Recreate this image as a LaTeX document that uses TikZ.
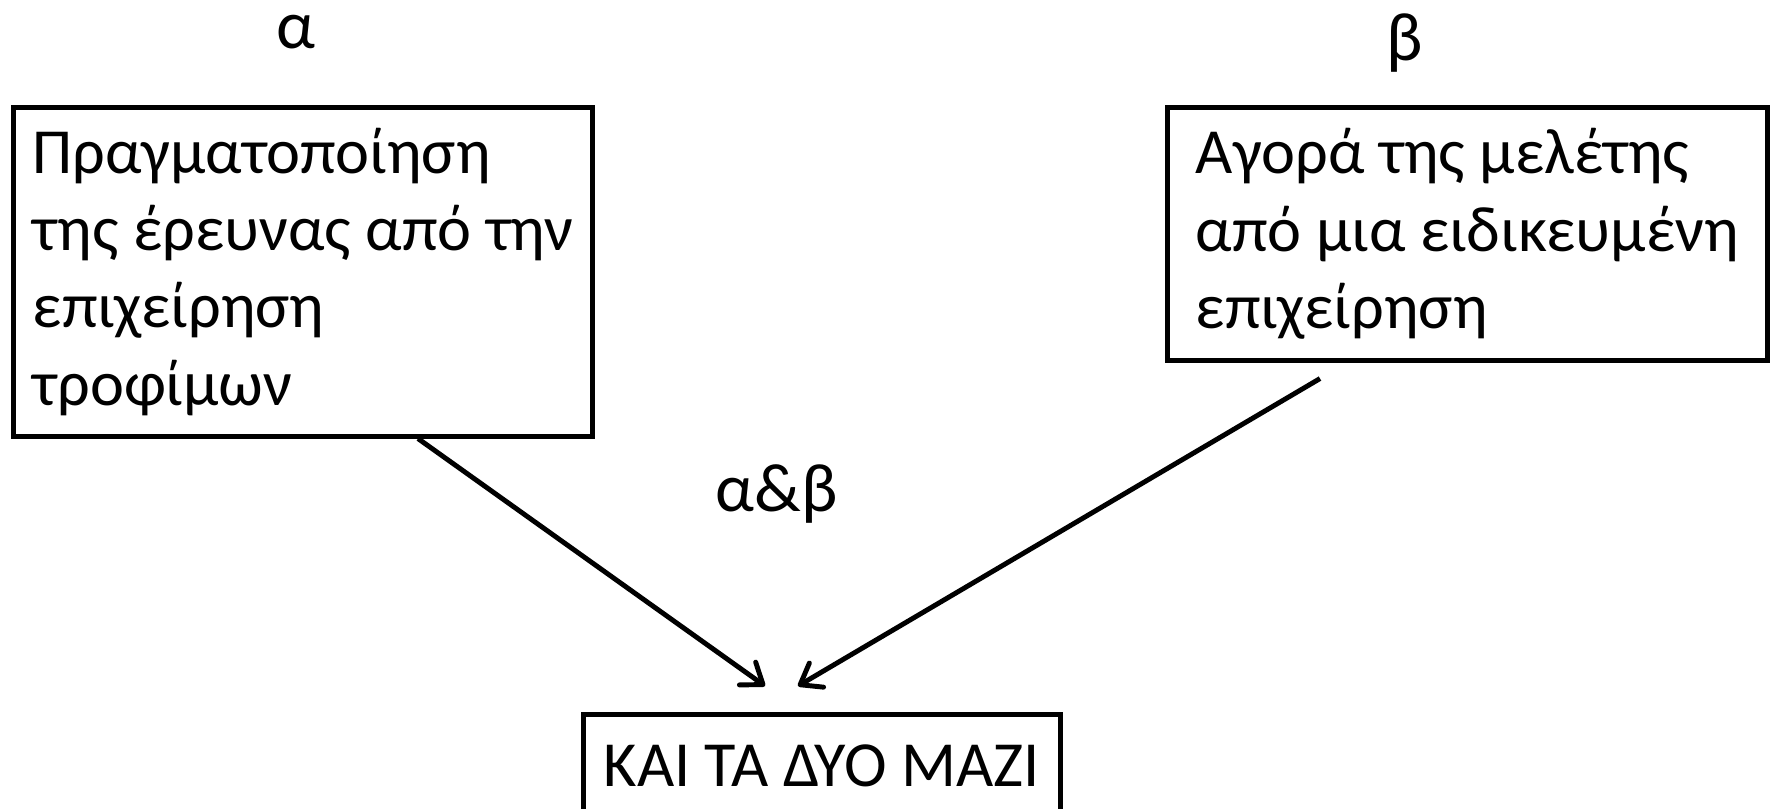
\documentclass[tikz,border=0pt]{standalone}
\usepackage{fontspec}
\setmainfont{Carlito}
\usetikzlibrary{positioning}
\usetikzlibrary{arrows.meta}
\begin{document}
\begin{tikzpicture}[box/.style={draw, line width=1.3pt, rectangle, align=left, font=\fontsize{18.3}{22}\selectfont},
	lbl/.style={font=\fontsize{19.5}{24}\selectfont, inner sep=0pt},
	every path/.style={line width=1.4pt}]
	\useasboundingbox (0,0) rectangle (17.72,-8.09);
	% boxes
	\node[box, anchor=north west, minimum width=5.79cm, minimum height=3.29cm] (ereuna) at (0.11,-1.05) {Πραγματοποίηση\\της έρευνας από την\\επιχείρηση\\τροφίμων};
	\node[box, anchor=north west, minimum width=6.0cm, minimum height=2.53cm] (agora) at (11.65,-1.05) {Αγορά της μελέτης\\από μια ειδικευμένη\\επιχείρηση};
	\node[box, anchor=north west, minimum width=4.77cm, minimum height=1.04cm, align=center] (mazi) at (5.81,-7.12) {ΚΑΙ ΤΑ ΔΥΟ ΜΑΖΙ};
	% labels
	\node[lbl] (a) at (2.96,-0.32) {α};
	\node[lbl] (b) at (14.05,-0.43) {β};
	\node[lbl] (ab) at (7.77,-4.94) {α\&β};
	% arrows
	\coordinate[right=4.07cm of ereuna.south west] (from1);
	\coordinate[below right=0.16cm and 1.55cm of agora.south west] (from2);
	\coordinate[above right=0.26cm and 1.84cm of mazi.north west] (to1);
	\coordinate[above right=0.26cm and 2.17cm of mazi.north west] (to2);
	\draw[-{Straight Barb[length=1.9mm, width=2.8mm, round]}] (from1) -- (to1);
	\draw[-{Straight Barb[length=1.9mm, width=2.8mm, round]}] (from2) -- (to2);
\end{tikzpicture}
\end{document}
